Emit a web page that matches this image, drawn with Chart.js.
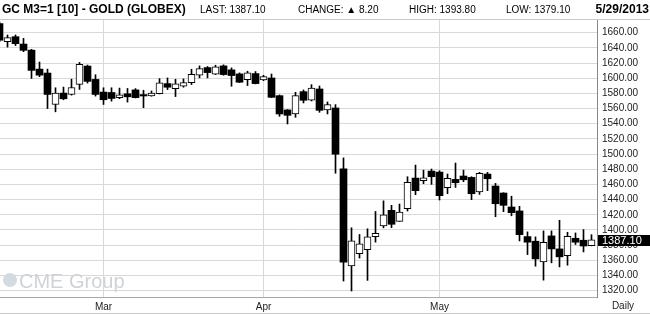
<!DOCTYPE html>
<html><head><meta charset="utf-8">
<script src="https://cdn.jsdelivr.net/npm/chart.js@4.4.0/dist/chart.umd.min.js"></script>
<style>html,body{margin:0;padding:0;background:#fff;overflow:hidden}</style>
</head><body>
<canvas id="c" width="650" height="314" style="display:block;width:650px;height:314px"></canvas>
<script>
// ---- data (daily OHLC, GC M3 Gold futures, Globex) ----
const dates = [
 '2013-02-11','2013-02-12','2013-02-13','2013-02-14','2013-02-15','2013-02-19','2013-02-20','2013-02-21','2013-02-22','2013-02-25','2013-02-26','2013-02-27','2013-02-28',
 '2013-03-01','2013-03-04','2013-03-05','2013-03-06','2013-03-07','2013-03-08','2013-03-11','2013-03-12','2013-03-13','2013-03-14','2013-03-15','2013-03-18','2013-03-19','2013-03-20','2013-03-21','2013-03-22','2013-03-25','2013-03-26','2013-03-27','2013-03-28',
 '2013-04-01','2013-04-02','2013-04-03','2013-04-04','2013-04-05','2013-04-08','2013-04-09','2013-04-10','2013-04-11','2013-04-12','2013-04-15','2013-04-16','2013-04-17','2013-04-18','2013-04-19','2013-04-22','2013-04-23','2013-04-24','2013-04-25','2013-04-26','2013-04-29','2013-04-30',
 '2013-05-01','2013-05-02','2013-05-03','2013-05-06','2013-05-07','2013-05-08','2013-05-09','2013-05-10','2013-05-13','2013-05-14','2013-05-15','2013-05-16','2013-05-17','2013-05-20','2013-05-21','2013-05-22','2013-05-23','2013-05-24','2013-05-28','2013-05-29'
];
const opens = [
 1672,1648.1,1654.7,1645,1637,1612,1606.8,1565.4,1580.4,1578.6,1591.8,1616,1598.4,
 1581.7,1581.2,1574.2,1579.5,1584.6,1578.4,1576.6,1579.7,1592.9,1586.3,1589.4,1594.2,1603.9,1614,1605.2,1616.2,1611,1605.7,1598.2,1606.1,
 1597.6,1600.3,1577,1558.2,1552.9,1582.3,1570.9,1585.8,1558.2,1560.8,1480.5,1352.5,1368.7,1374,1391.1,1405.5,1425.9,1411.4,1428.1,1468.4,1464.9,1477.6,
 1476.3,1455.7,1466.7,1471.1,1469.3,1450,1473.7,1457.9,1448.7,1430.3,1425.1,1391.3,1385.2,1358,1392.2,1375.1,1366.3,1389.1,1386.5,1379.4
];
const highs = [
 1674,1656.9,1657,1652.5,1638,1621.3,1612,1587.4,1588.3,1598.8,1620.8,1617.3,1604.6,
 1587.4,1587.4,1587,1586.5,1586.3,1584.1,1583.2,1599.5,1600.4,1598.6,1599.1,1611.8,1616.2,1615.4,1617.1,1617.6,1613.6,1607,1609.2,1608.8,
 1603.8,1605.5,1577.9,1558.6,1581.4,1584.5,1591.5,1589.7,1568.7,1565.2,1495,1402.9,1394.1,1401.6,1424.4,1438.4,1432.5,1434.2,1470.2,1485.5,1478.9,1480.3,
 1478.1,1473.7,1488.2,1478.9,1470.2,1475.9,1475.9,1461.4,1449.1,1444.5,1431.2,1397.5,1390.9,1398.8,1398.8,1412.8,1397,1396.1,1400.5,1393.8
];
const lows = [
 1648,1641,1643,1635,1599.7,1602,1560,1555.7,1571.6,1577.7,1585.2,1593.6,1576.4,
 1565.4,1569.8,1573,1568.5,1574,1561.2,1576.2,1579.3,1585,1575.8,1588.1,1591.6,1600.4,1600.4,1604.8,1603.9,1589.4,1594.2,1590.3,1592.5,
 1596.8,1574.4,1549.8,1539.7,1548.5,1567.4,1570,1555.1,1552.9,1474.8,1332.7,1319.6,1363,1333.6,1384,1402.9,1403.1,1411.4,1425,1446.5,1461,1460.1,
 1439.5,1447.8,1456.1,1463.6,1439.9,1446.9,1451.8,1417.5,1424.1,1418.7,1385.6,1367.6,1352.3,1333.9,1356.7,1351.4,1353.6,1380.8,1371.1,1379.1
];
const closes = [
 1650,1653.4,1645.5,1636.7,1610.3,1604,1578.6,1580.4,1572.9,1587.8,1618.2,1595.8,1578.6,
 1571.6,1573.3,1577.3,1575.5,1574.4,1576.6,1579.7,1593.8,1588.1,1592.5,1594.2,1605.2,1612.7,1607.4,1614.9,1604.8,1603.5,1594.7,1607,1592.9,
 1602,1574.8,1552.9,1551.1,1577,1570.9,1587.1,1557.7,1565.2,1499.8,1357.7,1385.8,1381.8,1391.1,1395.5,1420,1407.5,1423.7,1462.7,1451.8,1468,1470.2,
 1445.2,1468,1462.3,1466.2,1447.8,1474.6,1467.5,1434.6,1432.5,1422.8,1393.9,1383.9,1361.9,1383.9,1375.1,1364.6,1391.8,1383.9,1378.9,1387.1
];
const yTicks = [1320,1340,1360,1380,1400,1420,1440,1460,1480,1500,1520,1540,1560,1580,1600,1620,1640,1660];
const monthNames = ['Jan','Feb','Mar','Apr','May','Jun','Jul','Aug','Sep','Oct','Nov','Dec'];
const headerTitle = 'GC M3=1 [10] - GOLD (GLOBEX)';
const headerLast = 'LAST: 1387.10';
const headerChange = 'CHANGE: \u25B2 8.20';
const headerHigh = 'HIGH: 1393.80';
const headerLow = 'LOW: 1379.10';
const headerDate = '5/29/2013';
const periodLabel = 'Daily';
const lastValue = 1387.10;

// ---- derived ----
const idx = dates.map((d, i) => i);
const isUp = idx.map(i => closes[i] >= opens[i]);
const monthTicks = [];
idx.forEach(i => {
  if (i > 0 && dates[i].slice(5, 7) !== dates[i - 1].slice(5, 7)) {
    monthTicks.push({ value: i, label: monthNames[parseInt(dates[i].slice(5, 7), 10) - 1] });
  }
});

const FONT = '"Liberation Sans", Arial, sans-serif';

const decor = {
  id: 'decor',
  beforeDatasetsDraw(chart) {
    const ctx = chart.ctx;
    ctx.save();
    // watermark
    ctx.fillStyle = '#d3dae1';
    ctx.beginPath(); ctx.arc(10, 280, 7, 0, Math.PI * 2); ctx.fill();
    ctx.fillStyle = '#cfd3d7';
    ctx.font = '20px ' + FONT;
    ctx.textBaseline = 'alphabetic';
    ctx.fillText('CME Group', 19, 288);
    ctx.restore();
  },
  afterDraw(chart) {
    const ctx = chart.ctx;
    const ys = chart.scales.y;
    ctx.save();
    // header
    ctx.fillStyle = '#000';
    ctx.textBaseline = 'middle';
    ctx.font = 'bold 12px ' + FONT;
    ctx.textAlign = 'left';
    ctx.fillText(headerTitle, 2, 10);
    ctx.textAlign = 'right';
    ctx.fillText(headerDate, 649, 10);
    ctx.textAlign = 'left';
    ctx.font = '10px ' + FONT;
    ctx.fillText(headerLast, 200, 10);
    ctx.fillText(headerChange, 298, 10);
    ctx.fillText(headerHigh, 409, 10);
    ctx.fillText(headerLow, 506, 10);
    // top line
    ctx.strokeStyle = '#c8c8c8';
    ctx.lineWidth = 1;
    ctx.beginPath(); ctx.moveTo(0, 19.5); ctx.lineTo(650, 19.5); ctx.stroke();
    // bottom line
    ctx.beginPath(); ctx.moveTo(0, 313.5); ctx.lineTo(650, 313.5); ctx.stroke();
    // period label
    ctx.font = '10px ' + FONT;
    ctx.textAlign = 'center';
    ctx.fillStyle = '#222';
    ctx.fillText(periodLabel, 623, 306);
    // last value box
    const cy = Math.round(ys.getPixelForValue(lastValue));
    ctx.fillStyle = '#000';
    ctx.fillRect(598, cy - 5, 52, 11);
    ctx.fillStyle = '#fff';
    ctx.font = '11px ' + FONT;
    ctx.textAlign = 'left';
    ctx.fillText(lastValue.toFixed(2), 602, cy + 0.5);
    ctx.restore();
  }
};

new Chart(document.getElementById('c'), {
  type: 'bar',
  data: {
    datasets: [
      { label: 'down', data: idx.filter(i => !isUp[i]).map(i => ({ x: i, y: [opens[i], closes[i]] })),
        backgroundColor: '#000', borderWidth: 0, barThickness: 7, grouped: false, minBarLength: 1 },
      { label: 'up', data: idx.filter(i => isUp[i]).map(i => ({ x: i, y: [opens[i], closes[i]] })),
        backgroundColor: '#fff', borderColor: '#000', borderWidth: 1, borderSkipped: false, barThickness: 7, grouped: false, minBarLength: 3 },
      { label: 'wick', data: idx.map(i => ({ x: i, y: [lows[i], highs[i]] })),
        backgroundColor: '#000', borderWidth: 0, barThickness: 1, grouped: false }
    ]
  },
  options: {
    responsive: false, animation: false, devicePixelRatio: 1,
    layout: { padding: { top: 20, left: 0, right: 0, bottom: 0 } },
    plugins: { legend: { display: false }, tooltip: { enabled: false }, title: { display: false } },
    scales: {
      x: {
        type: 'linear', min: 1 / 16, max: 1 / 16 + 597 / 8, offset: false,
        afterBuildTicks: s => { s.ticks = monthTicks.map(t => ({ value: t.value })); },
        afterFit: s => { s.height = 17; },
        ticks: {
          autoSkip: false, maxRotation: 0, padding: 4, color: '#222',
          font: { size: 10, family: FONT },
          callback: v => { const t = monthTicks.find(m => m.value === v); return t ? t.label : ''; }
        },
        grid: { color: '#d9d9d9', drawTicks: false, offset: false },
        border: { display: true, color: '#a8a8a8' }
      },
      y: {
        position: 'right', min: 1311.7, max: 1676.7,
        afterBuildTicks: s => { s.ticks = yTicks.map(v => ({ value: v })); },
        afterFit: s => { s.width = 53; },
        ticks: {
          padding: 5, color: '#222', font: { size: 10, family: FONT },
          callback: v => Number(v).toFixed(2)
        },
        grid: { color: '#d9d9d9', drawTicks: false },
        border: { display: true, color: '#888' }
      }
    }
  },
  plugins: [decor]
});
</script>
</body></html>
